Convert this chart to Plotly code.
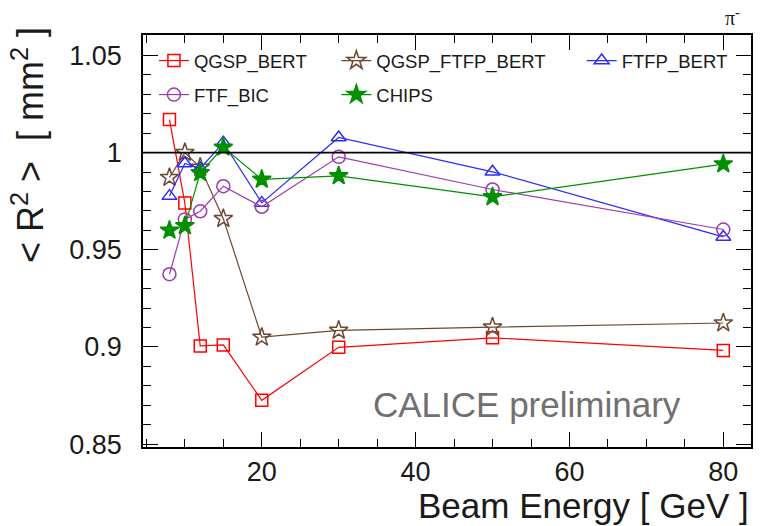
import plotly.graph_objects as go

energy = [8, 10, 12, 15, 20, 30, 50, 80]
qgsp_bert = [1.017, 0.974, 0.9005, 0.901, 0.8725, 0.8998, 0.9047, 0.8982]
qgsp_ftfp_bert = [0.9872, 1.0, 0.9924, 0.966, 0.905, 0.9085, 0.9102, 0.9123]
ftfp_bert = [0.9776, 0.9944, 0.9918, 1.0051, 0.9741, 1.0078, 0.9901, 0.9566]
ftf_bic = [0.9374, 0.9656, 0.9698, 0.9827, 0.9721, 0.9978, 0.981, 0.9604]
chips = [0.96, 0.9623, 0.9896, 1.0027, 0.9862, 0.988, 0.9772, 0.9941]

y_tickvals = [0.85, 0.9, 0.95, 1.0, 1.05]
y_ticktext = ["0.85", "0.9", "0.95", "1", "1.05"]
x_tickvals = [20, 40, 60, 80]
x_ticktext = ["20", "40", "60", "80"]

FONT = "Liberation Sans, Arial, Helvetica, sans-serif"

series = [
    ("QGSP_BERT", qgsp_bert, "#ff0000", "square-open", 12, "legend", 1),
    ("QGSP_FTFP_BERT", qgsp_ftfp_bert, "#6e4630", "star-open", 14, "legend2", 1),
    ("FTFP_BERT", ftfp_bert, "#2b2bff", "triangle-up-open", 13, "legend3", 1),
    ("FTF_BIC", ftf_bic, "#9a3cb0", "circle-open", 13, "legend", 2),
    ("CHIPS", chips, "#009000", "star", 14, "legend2", 2),
]

fig = go.Figure()
for name, vals, col, sym, size, leg, rank in series:
    fig.add_trace(go.Scatter(
        x=energy, y=vals, name=name, mode="lines+markers",
        line=dict(color=col, width=1.2),
        marker=dict(symbol=sym, size=size, color=col,
                    line=dict(color=col, width=1.5)),
        legend=leg, legendgroup=name, legendrank=rank,
    ))

fig.add_shape(type="line", xref="paper", yref="y", x0=0, x1=1, y0=1, y1=1,
              line=dict(color="black", width=1.6))

axis_common = dict(
    showline=True, linecolor="black", linewidth=1.6, mirror="ticks",
    ticks="inside", ticklen=15, tickwidth=1.4, tickcolor="black",
    showgrid=False, zeroline=False,
)

fig.update_xaxes(
    range=[4.56, 83.6], tickmode="array", tickvals=x_tickvals, ticktext=x_ticktext,
    minor=dict(ticks="inside", ticklen=8, tickwidth=1.2, tickcolor="black", dtick=5, tick0=0),
    ticklabelstandoff=0,
    tickfont=dict(family=FONT, size=27, color="#1a1a1a"),
    **axis_common,
)
fig.update_yaxes(
    range=[0.8485, 1.0605], tickmode="array", tickvals=y_tickvals, ticktext=y_ticktext,
    minor=dict(ticks="inside", ticklen=8, tickwidth=1.2, tickcolor="black", dtick=0.01, tick0=0.85),
    ticklabelstandoff=14,
    tickfont=dict(family=FONT, size=27, color="#1a1a1a"),
    **axis_common,
)

legend_common = dict(
    orientation="v", yanchor="top", y=0.983, xanchor="left",
    bgcolor="rgba(0,0,0,0)", borderwidth=0, tracegroupgap=7,
    font=dict(family=FONT, size=18.5, color="#1a1a1a"),
    itemwidth=30,
)

fig.update_layout(
    width=763, height=526,
    margin=dict(l=143, r=10, t=35, b=79),
    paper_bgcolor="white", plot_bgcolor="white",
    showlegend=True,
    legend=dict(x=0.018, **legend_common),
    legend2=dict(x=0.318, **legend_common),
    legend3=dict(x=0.7215, **legend_common),
    annotations=[
        dict(text="Beam Energy [ GeV ]", xref="paper", yref="paper", x=1.0, y=0,
             xanchor="right", yanchor="middle", yshift=-58, showarrow=False,
             font=dict(family=FONT, size=35, color="#1a1a1a")),
        dict(text="< R<sup>2</sup> >  [ mm<sup>2</sup> ]", xref="paper", yref="paper",
             x=0, y=1, xanchor="center", yanchor="top", xshift=-115, yshift=10,
             textangle=-90, showarrow=False,
             font=dict(family=FONT, size=36, color="#1a1a1a")),
        dict(text="CALICE preliminary", xref="paper", yref="paper",
             x=(528 - 143) / 610, y=(447 - 404) / 412, xanchor="center", yanchor="middle",
             showarrow=False, font=dict(family=FONT, size=35, color="#707070")),
        dict(text="π<sup>-</sup>", xref="paper", yref="paper",
             x=(734 - 143) / 610, y=1, xanchor="center", yanchor="bottom", yshift=4,
             showarrow=False,
             font=dict(family="Liberation Serif, Times New Roman, serif", size=20, color="#1a1a1a")),
    ],
)

fig.write_html("out.html")
